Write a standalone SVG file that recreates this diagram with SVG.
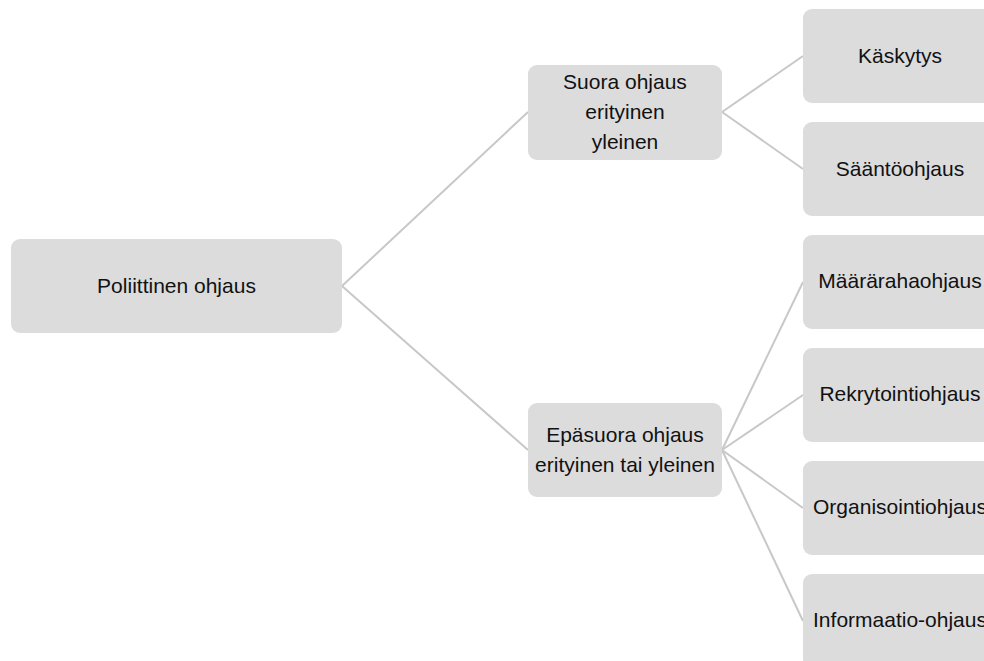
<svg xmlns="http://www.w3.org/2000/svg" width="984" height="661" viewBox="0 0 984 661">
<style>
.box{fill:#dcdcdc;}
.lbl{font-family:"Liberation Sans",Arial,sans-serif;font-size:21px;fill:#111111;text-anchor:middle;}
.conn{stroke:#c8c8c8;stroke-width:2;fill:none;}
</style>
<rect width="984" height="661" fill="#ffffff"/>
<g id="connectors">
<line class="conn" x1="342" y1="286" x2="528" y2="112"/>
<line class="conn" x1="342" y1="286" x2="528" y2="450"/>
<line class="conn" x1="722" y1="112" x2="803" y2="56"/>
<line class="conn" x1="722" y1="112" x2="803" y2="169"/>
<line class="conn" x1="722" y1="450" x2="803" y2="282"/>
<line class="conn" x1="722" y1="450" x2="803" y2="395"/>
<line class="conn" x1="722" y1="450" x2="803" y2="508"/>
<line class="conn" x1="722" y1="450" x2="803" y2="621"/>
</g>
<g id="node-poliittinen">
<rect class="box" x="11" y="239" width="331" height="94" rx="9"/>
<text class="lbl" x="176.5" y="293">Poliittinen ohjaus</text>
</g>
<g id="node-suora">
<rect class="box" x="528" y="65" width="194" height="95" rx="9"/>
<text class="lbl" x="625" y="89">Suora ohjaus</text>
<text class="lbl" x="625" y="119">erityinen</text>
<text class="lbl" x="625" y="149">yleinen</text>
</g>
<g id="node-epasuora">
<rect class="box" x="528" y="403" width="194" height="94" rx="9"/>
<text class="lbl" x="625" y="442">Epäsuora ohjaus</text>
<text class="lbl" x="625" y="472">erityinen tai yleinen</text>
</g>
<g id="node-kaskytys">
<rect class="box" x="803" y="9" width="194" height="94" rx="9"/>
<text class="lbl" x="900" y="63">Käskytys</text>
</g>
<g id="node-saantoohjaus">
<rect class="box" x="803" y="122" width="194" height="94" rx="9"/>
<text class="lbl" x="900" y="176">Sääntöohjaus</text>
</g>
<g id="node-maararahaohjaus">
<rect class="box" x="803" y="235" width="194" height="94" rx="9"/>
<text class="lbl" x="900" y="288">Määrärahaohjaus</text>
</g>
<g id="node-rekrytointiohjaus">
<rect class="box" x="803" y="348" width="194" height="94" rx="9"/>
<text class="lbl" x="900" y="401">Rekrytointiohjaus</text>
</g>
<g id="node-organisointiohjaus">
<rect class="box" x="803" y="461" width="194" height="94" rx="9"/>
<text class="lbl" x="900" y="514">Organisointiohjaus</text>
</g>
<g id="node-informaatio">
<rect class="box" x="803" y="574" width="194" height="94" rx="9"/>
<text class="lbl" x="900" y="627">Informaatio-ohjaus</text>
</g>
</svg>
